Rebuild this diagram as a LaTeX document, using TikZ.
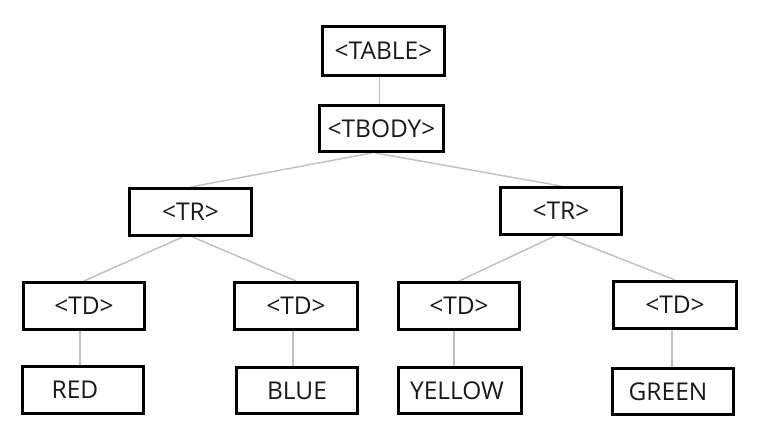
\documentclass[tikz,border=0pt]{standalone}
\usepackage{fontspec}
\setmainfont{Open Sans}
\usetikzlibrary{backgrounds}
\begin{document}
\begin{tikzpicture}[x=1pt,y=-1pt,
  box/.style={draw=black, line width=3pt, fill=white, rectangle,
    minimum width=121pt, minimum height=47pt, inner sep=0pt,
    font=\fontsize{24.5}{28}\selectfont, text=black!90},
  link/.style={draw=black!25, line width=1.4pt}]
\useasboundingbox (0,0) rectangle (765,437);
\node[box, minimum width=122pt, minimum height=49pt] (table) at (383.5,51) {<TABLE>};
\node[box, minimum width=124pt, minimum height=46pt] (tbody) at (381.5,128.5) {<TBODY>};
\node[box, minimum width=122pt] (tr1) at (190.5,212) {<TR>};
\node[box] (tr2) at (561,211) {<TR>};
\node[box] (td1) at (84,306) {<TD>};
\node[box, minimum width=123pt] (td2) at (296,306) {<TD>};
\node[box] (td3) at (459,306) {<TD>};
\node[box, minimum width=123pt] (td4) at (675,305) {<TD>};
\node[box] (red) at (83,390) {\hspace*{-16pt}RED};
\node[box, minimum height=46pt] (blue) at (297,390.5) {BLUE};
\node[box, minimum width=123pt, minimum height=46pt] (yellow) at (460,390.5) {\hspace*{-6pt}YELLOW};
\node[box, minimum height=46pt] (green) at (673,391.5) {\hspace*{-10pt}GREEN};
\begin{scope}[on background layer]
\fill[white] (0,0) rectangle (765,437);
\draw[link] ([xshift=-4pt]table.south) -- ([xshift=-2pt]tbody.north);
\draw[link] ([xshift=-10pt]tbody.south) -- (tr1.north);
\draw[link] ([xshift=-6pt]tbody.south) -- (tr2.north);
\draw[link] ([xshift=-8pt]tr1.south) -- (td1.north);
\draw[link] ([xshift=2pt]tr1.south) -- (td2.north);
\draw[link] ([xshift=-6pt]tr2.south) -- (td3.north);
\draw[link] ([xshift=2pt]tr2.south) -- (td4.north);
\draw[link] ([xshift=-4pt]td1.south) -- ([xshift=-3pt]red.north);
\draw[link] ([xshift=-3pt]td2.south) -- ([xshift=-4pt]blue.north);
\draw[link] ([xshift=-5pt]td3.south) -- ([xshift=-6pt]yellow.north);
\draw[link] ([xshift=-3pt]td4.south) -- ([xshift=-1pt]green.north);
\end{scope}
\end{tikzpicture}
\end{document}
